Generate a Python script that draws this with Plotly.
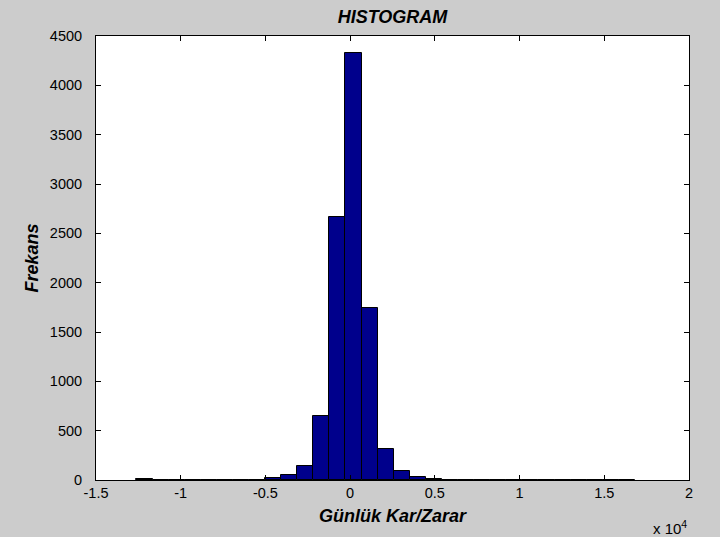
import plotly.graph_objects as go

# Histogram bins (actual units; axis shows x 10^4)
bin_centers = [-12138, -11189, -10240, -9291, -8342, -7393, -6444, -5495,
               -4546, -3596, -2647, -1698, -749, 200, 1149, 2098, 3047, 3996,
               4945, 5894, 6843, 7792, 8741, 9690, 10639, 11588, 12537, 13486,
               14435, 15384, 16333]
counts = [8, 0, 2, 2, 2, 2, 3, 5,
          20, 50, 145, 650, 2670, 4330, 1740, 315, 95, 35,
          10, 3, 2, 2, 2, 2, 0, 5, 0, 5,
          0, 0, 5]
bin_width = 949

x_tickvals = [-15000, -10000, -5000, 0, 5000, 10000, 15000, 20000]
x_ticktext = ["-1.5", "-1", "-0.5", "0", "0.5", "1", "1.5", "2"]
y_tickvals = [0, 500, 1000, 1500, 2000, 2500, 3000, 3500, 4000, 4500]

title_text = "HISTOGRAM"
x_label = "Günlük Kar/Zarar"
y_label = "Frekans"

FONT = "Arial, Liberation Sans, sans-serif"

fig = go.Figure()
fig.add_trace(go.Bar(
    x=bin_centers, y=counts, width=[bin_width] * len(bin_centers),
    marker=dict(color="rgb(0,0,140)", line=dict(color="black", width=1)),
    showlegend=False,
))

axis_common = dict(
    showline=True, linecolor="black", linewidth=1, mirror="ticks",
    ticks="inside", ticklen=5, tickcolor="black", tickwidth=1,
    showgrid=False, zeroline=False,
    tickfont=dict(family=FONT, size=14.5, color="black"),
)

fig.update_layout(
    width=720, height=537,
    paper_bgcolor="#cccccc", plot_bgcolor="white",
    margin=dict(l=96, r=31, t=36, b=57),
    bargap=0,
    font=dict(family=FONT, color="black"),
    title=dict(text="<b><i>" + title_text + "</i></b>", x=0.5, xref="paper",
               y=1 - 17 / 537, yref="container", yanchor="middle",
               font=dict(size=18, family=FONT, color="black")),
    xaxis=dict(range=[-15000, 20000], tickvals=x_tickvals, ticktext=x_ticktext,
               ticklabelstandoff=0,
               title=dict(text="<b><i>" + x_label + "</i></b>", standoff=8,
                          font=dict(size=18, family=FONT, color="black")),
               **axis_common),
    yaxis=dict(range=[0, 4500], tickvals=y_tickvals,
               ticklabelstandoff=10,
               title=dict(text="<b><i>" + y_label + "</i></b>", standoff=6,
                          font=dict(size=18, family=FONT, color="black")),
               **axis_common),
)
fig.update_xaxes(automargin=False)
fig.update_yaxes(automargin=False)

fig.add_annotation(text="x 10<sup>4</sup>", xref="paper", yref="paper",
                   x=1.0, y=0, xanchor="right", yanchor="top", yshift=-36,
                   showarrow=False, font=dict(family=FONT, size=15, color="black"))

fig.write_html("out.html", config={"displayModeBar": False},
               post_script="document.body.style.margin='0px';document.body.style.overflow='hidden';")
